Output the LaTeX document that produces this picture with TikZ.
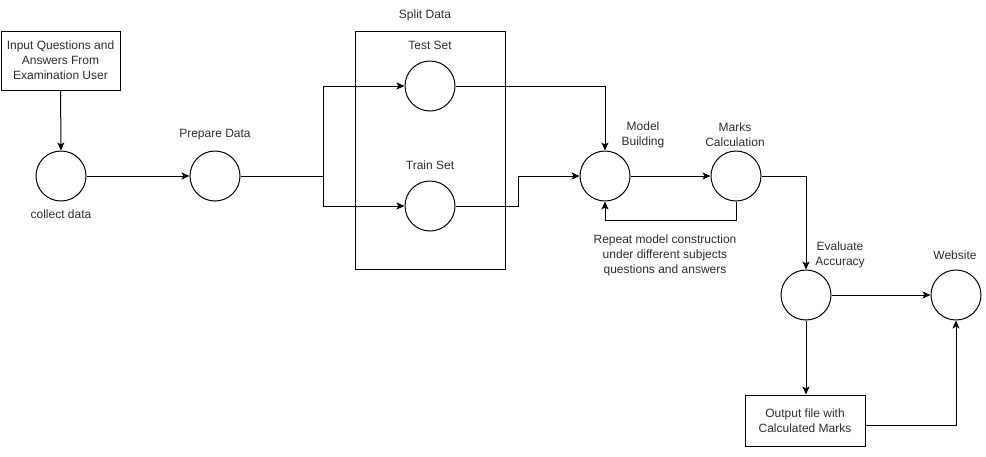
\documentclass[tikz,border=0pt]{standalone}
\usepackage{fontspec}
\setmainfont{Liberation Sans}
\usetikzlibrary{arrows.meta}
\begin{document}
\begin{tikzpicture}[x=1pt,y=-1pt,
  every node/.style={font=\fontsize{12}{15}\selectfont, text=black!82},
  stage/.style={draw, circle, minimum size=50pt, inner sep=0pt, line width=1pt},
  box/.style={draw, rectangle, line width=1pt, align=center, inner sep=0pt},
  lbl/.style={align=center, inner sep=0pt},
  flow/.style={line width=1pt, -{Stealth[length=8pt,width=7pt,inset=2pt]}},
  link/.style={line width=1pt}
]
\useasboundingbox[fill=white] (0,0) rectangle (986,456);

% boxes
\node[box, minimum width=119pt, minimum height=59pt] (input) at (60.5,60.5)
  {Input Questions and\\Answers From\\Examination User};
\node[box, minimum width=150pt, minimum height=238pt] (split) at (430,150) {};
\node[box, minimum width=120pt, minimum height=51pt] (output) at (805,420.5)
  {Output file with\\Calculated Marks};

% process stages
\node[stage] (collect)  at (61,176)  {};
\node[stage] (prepare)  at (215,176) {};
\node[stage] (test)     at (430,86)  {};
\node[stage] (train)    at (430,206) {};
\node[stage] (model)    at (605,176) {};
\node[stage] (marks)    at (736,176) {};
\node[stage] (evaluate) at (806,295) {};
\node[stage] (website)  at (956,295) {};

% labels
\node[lbl] (lcollect) at (61,214)  {collect data};
\node[lbl] (lprepare) at (215,135) {Prepare Data};
\node[lbl] (lsplit)   at (425,15)  {Split Data};
\node[lbl] (ltest)    at (430,45)  {Test Set};
\node[lbl] (ltrain)   at (430,165) {Train Set};
\node[lbl] (lmodel)   at (643,135) {Model\\Building};
\node[lbl] (lmarks)   at (735,135) {Marks\\Calculation};
\node[lbl] (lrepeat)  at (665,255) {Repeat model construction\\under different subjects\\questions and answers};
\node[lbl] (leval)    at (840,255) {Evaluate\\Accuracy};
\node[lbl] (lweb)     at (955,255) {Website};

% routing points
\coordinate (fork)    at (323,176);
\coordinate (jog)     at (518,176);
\coordinate (loop)    at (736,220);
\coordinate (outport) at (865,425);

% connectors
\draw[flow] (input) -- (collect);
\draw[flow] (collect) -- (prepare);
\draw[link] (prepare) -- (fork);
\draw[flow] (fork) |- (test);
\draw[flow] (fork) |- (train);
\draw[flow] (test) -| (model);
\draw[flow] (train) -| (jog) -- (model);
\draw[flow] (model) -- (marks);
\draw[flow] (marks.south) -- (loop) -| (model.south);
\draw[flow] (marks) -| (evaluate);
\draw[flow] (evaluate) -- (website);
\draw[flow] (evaluate.south) -- (evaluate.south |- output.north);
\draw[flow] (outport) -| (website);
\end{tikzpicture}
\end{document}
